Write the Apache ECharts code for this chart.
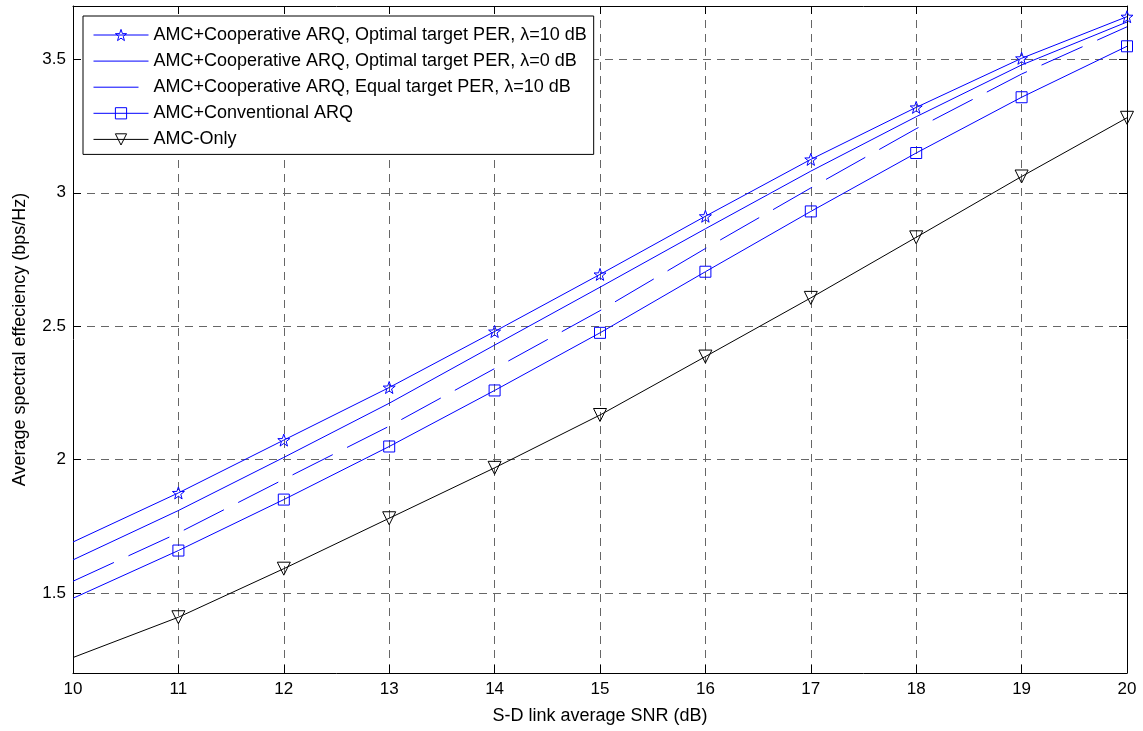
<!DOCTYPE html>
<html>
<head>
<meta charset="utf-8">
<script src="https://cdn.jsdelivr.net/npm/echarts@6/dist/echarts.min.js"></script>
<style>
    html, body {margin: 0; padding: 0; background: #fff;}
    #chart {width: 1143px; height: 731px;}
</style>
</head>
<body>
<div id="chart"></div>
<script>
// S-D link average SNR (dB)
var snr = [10, 11, 12, 13, 14, 15, 16, 17, 18, 19, 20];
// 谱效率 (bps/Hz)
var coopOptLambda10 = [1.691, 1.875, 2.073, 2.270, 2.480, 2.694, 2.912, 3.125, 3.320, 3.504, 3.660];
var coopOptLambda0 = [1.624, 1.809, 2.008, 2.211, 2.429, 2.646, 2.865, 3.081, 3.285, 3.479, 3.640];
var coopEqualLambda10 = [1.544, 1.725, 1.926, 2.125, 2.341, 2.558, 2.791, 3.018, 3.240, 3.445, 3.622];
var conventionalArq = [1.480, 1.659, 1.850, 2.049, 2.259, 2.475, 2.704, 2.930, 3.149, 3.358, 3.549];
var amcOnly = [1.258, 1.409, 1.591, 1.780, 1.969, 2.167, 2.386, 2.606, 2.833, 3.061, 3.281];
var yTicks = [1.5, 2, 2.5, 3, 3.5];

var legendNames = [
    'AMC+Cooperative ARQ, Optimal target PER, λ=10 dB',
    'AMC+Cooperative ARQ, Optimal target PER, λ=0 dB',
    'AMC+Cooperative ARQ, Equal target PER, λ=10 dB',
    'AMC+Conventional ARQ',
    'AMC-Only'
];

var starPath = 'path://M0,-10L2.35,-3.24L9.51,-3.09L3.8,1.24L5.88,8.09L0,4.1L-5.88,8.09L-3.8,1.24L-9.51,-3.09L-2.35,-3.24Z';
var fontName = 'Liberation Sans, Arial, sans-serif';
var blue = '#0000ff';
var dashed = [45, 16];

// 第一个点 (10 dB) 不画标记
function toData(vals) {
    return snr.map(function (x, i) {
        var item = {value: [x, vals[i]]};
        if (i === 0) {
            item.symbol = 'none';
        }
        return item;
    });
}

function makeSeries(name, vals, color, symbol, size, dash) {
    var noMark = symbol === 'none';
    return {
        name: name,
        type: 'line',
        data: toData(vals),
        symbol: noMark ? 'circle' : symbol,
        symbolSize: noMark ? 0 : size,
        symbolRotate: symbol === 'triangle' ? 180 : 0,
        showSymbol: !noMark,
        animation: false,
        lineStyle: {color: color, width: 1, type: dash || 'solid'},
        itemStyle: {
            color: 'rgba(0,0,0,0)',
            borderColor: noMark ? 'rgba(0,0,0,0)' : color,
            borderWidth: noMark ? 0 : 1
        },
        emphasis: {disabled: true}
    };
}

function legendItem(name, color, dash, noMark) {
    return {
        name: name,
        lineStyle: {color: color, width: 1, type: dash || 'solid'},
        itemStyle: {
            color: 'rgba(0,0,0,0)',
            borderColor: noMark ? 'rgba(0,0,0,0)' : color,
            borderWidth: noMark ? 0 : 1
        }
    };
}

var gridLine = {show: true, lineStyle: {color: '#666', width: 1, type: [8, 6]}};
var tickIn = {show: true, inside: true, length: 8, lineStyle: {color: '#000'}};
var axisBlack = {show: true, onZero: false, lineStyle: {color: '#000', width: 1}};

var chart = echarts.init(document.getElementById('chart'));
chart.setOption({
    backgroundColor: '#fff',
    animation: false,
    grid: {left: 73, right: 16, top: 6, bottom: 58},
    legend: {
        orient: 'vertical',
        left: 83,
        top: 16,
        padding: [10, 7, 6, 10],
        itemWidth: 55,
        itemHeight: 14,
        itemGap: 8.1,
        backgroundColor: '#fff',
        borderColor: '#000',
        borderWidth: 1,
        borderRadius: 0,
        data: [
            legendItem(legendNames[0], blue),
            legendItem(legendNames[1], blue, null, true),
            legendItem(legendNames[2], blue, dashed, true),
            legendItem(legendNames[3], blue),
            legendItem(legendNames[4], '#000')
        ],
        textStyle: {color: '#000', fontFamily: fontName, fontSize: 18}
    },
    xAxis: [
        {
            type: 'value',
            min: 10,
            max: 20,
            interval: 1,
            name: 'S-D link average SNR (dB)',
            nameLocation: 'middle',
            nameGap: 34,
            nameTextStyle: {color: '#000', fontFamily: fontName, fontSize: 18},
            axisLine: axisBlack,
            axisTick: tickIn,
            axisLabel: {color: '#000', fontFamily: fontName, fontSize: 17, margin: 8},
            splitLine: gridLine
        },
        {
            type: 'value',
            position: 'top',
            min: 10,
            max: 20,
            interval: 1,
            axisLine: axisBlack,
            axisTick: tickIn,
            axisLabel: {show: false},
            splitLine: {show: false}
        }
    ],
    yAxis: [
        {
            type: 'value',
            min: 1.2,
            max: 3.7,
            name: 'Average spectral effeciency (bps/Hz)',
            nameLocation: 'middle',
            nameRotate: 90,
            nameGap: 44,
            nameTextStyle: {color: '#000', fontFamily: fontName, fontSize: 18},
            axisLine: axisBlack,
            axisTick: {show: true, inside: true, length: 8, lineStyle: {color: '#000'}, customValues: yTicks},
            axisLabel: {color: '#000', fontFamily: fontName, fontSize: 17, margin: 7, customValues: yTicks},
            splitLine: gridLine
        },
        {
            type: 'value',
            position: 'right',
            min: 1.2,
            max: 3.7,
            axisLine: axisBlack,
            axisTick: {show: true, inside: true, length: 8, lineStyle: {color: '#000'}, customValues: yTicks},
            axisLabel: {show: false, customValues: yTicks},
            splitLine: {show: false}
        }
    ],
    series: [
        makeSeries(legendNames[0], coopOptLambda10, blue, starPath, 12),
        makeSeries(legendNames[1], coopOptLambda0, blue, 'none', 0),
        makeSeries(legendNames[2], coopEqualLambda10, blue, 'none', 0, dashed),
        makeSeries(legendNames[3], conventionalArq, blue, 'rect', 11),
        makeSeries(legendNames[4], amcOnly, '#000000', 'triangle', 13)
    ]
});
</script>
</body>
</html>
